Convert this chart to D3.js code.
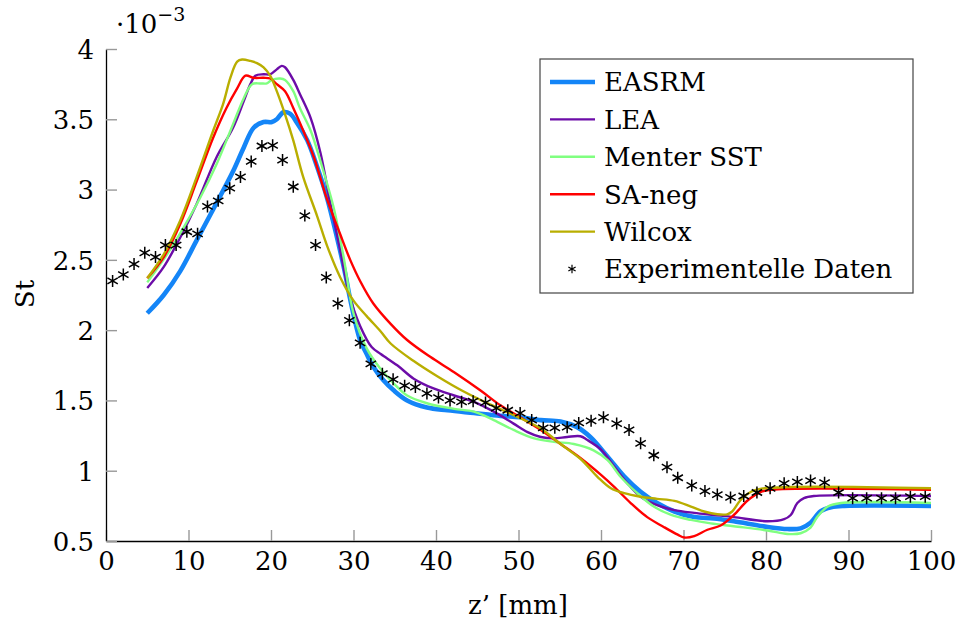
<!DOCTYPE html>
<html>
<head>
<meta charset="utf-8">
<script src="https://cdn.jsdelivr.net/npm/d3@7"></script>
<style>
  body { margin: 0; background: #fff; }
  text { font-family: "DejaVu Serif", "Liberation Serif", serif; fill: #000; }
</style>
</head>
<body>
<svg id="chart" width="956" height="630"></svg>
<script>
// Stanton number St (x 10^-3) along z' [mm]

const easrmZ  = [5.0, 7.0, 9.0, 11.0, 13.0, 15.4, 16.7, 17.9, 19.1, 20.1, 20.7, 21.5, 22.3, 23.1, 24.4, 25.6, 26.8, 28.0, 29.0, 29.6, 30.8, 31.6, 32.4, 33.6, 34.9, 36.5, 38.9, 41.4, 44.6, 47.8, 50.2, 52.7, 55.1, 57.1, 58.7, 60.8, 62.8, 64.8, 66.8, 68.9, 71.3, 73.7, 76.1, 80.2, 82.6, 84.2, 85.4, 86.6, 87.9, 89.5, 100];
const easrmSt = [2.12, 2.25, 2.42, 2.64, 2.86, 3.13, 3.30, 3.44, 3.48, 3.48, 3.50, 3.55, 3.54, 3.48, 3.35, 3.16, 2.94, 2.66, 2.40, 2.22, 1.93, 1.83, 1.74, 1.645, 1.57, 1.50, 1.45, 1.43, 1.41, 1.39, 1.38, 1.36, 1.35, 1.31, 1.24, 1.10, 0.96, 0.85, 0.77, 0.71, 0.67, 0.66, 0.64, 0.60, 0.585, 0.59, 0.63, 0.71, 0.74, 0.75, 0.75];

const leaZ  = [5.0, 7.0, 9.0, 11.0, 13.4, 15.4, 16.7, 17.5, 18.1, 19.1, 19.9, 20.7, 21.3, 21.7, 22.7, 23.5, 24.8, 26.0, 27.2, 28.4, 29.6, 30.8, 32.2, 33.3, 35.3, 37.3, 39.7, 42.2, 44.6, 47.0, 49.4, 51.1, 52.7, 54.3, 55.9, 57.5, 58.3, 60.0, 61.6, 63.2, 64.8, 66.8, 68.9, 71.3, 73.7, 76.1, 80.2, 82.2, 83.0, 83.8, 84.6, 85.8, 100];
const leaSt = [2.30, 2.45, 2.66, 2.90, 3.23, 3.44, 3.63, 3.75, 3.81, 3.82, 3.82, 3.855, 3.88, 3.87, 3.78, 3.68, 3.51, 3.26, 2.90, 2.565, 2.23, 2.03, 1.88, 1.83, 1.75, 1.655, 1.585, 1.535, 1.49, 1.42, 1.335, 1.275, 1.24, 1.23, 1.24, 1.245, 1.22, 1.15, 1.03, 0.91, 0.815, 0.755, 0.72, 0.70, 0.685, 0.67, 0.64, 0.655, 0.685, 0.77, 0.805, 0.82, 0.82];

const menterZ  = [5.0, 7.4, 9.4, 11.4, 13.4, 15.4, 16.7, 17.7, 18.7, 19.5, 20.1, 21.1, 21.7, 22.7, 23.5, 24.8, 26.0, 27.6, 28.8, 30.0, 31.6, 33.2, 34.9, 36.5, 38.9, 42.2, 44.6, 47.0, 49.4, 51.9, 54.3, 56.7, 59.1, 60.8, 62.4, 64.4, 66.4, 68.5, 70.9, 73.3, 76.1, 80.2, 82.6, 84.2, 85.4, 86.2, 87.5, 89.1, 100];
const menterSt = [2.34, 2.54, 2.73, 2.94, 3.18, 3.465, 3.65, 3.75, 3.755, 3.755, 3.78, 3.79, 3.78, 3.70, 3.58, 3.42, 3.20, 2.87, 2.52, 2.12, 1.87, 1.73, 1.62, 1.535, 1.48, 1.44, 1.42, 1.36, 1.29, 1.23, 1.205, 1.19, 1.145, 1.075, 0.955, 0.84, 0.745, 0.685, 0.65, 0.625, 0.605, 0.575, 0.55, 0.555, 0.595, 0.67, 0.745, 0.77, 0.77];

const saNegZ  = [5.0, 7.0, 9.0, 11.0, 13.0, 14.6, 15.9, 16.9, 17.9, 19.1, 19.9, 20.7, 21.7, 22.7, 23.9, 25.2, 26.8, 28.4, 29.6, 30.8, 32.4, 34.5, 36.5, 39.3, 42.2, 45.4, 47.8, 50.2, 52.7, 55.1, 57.5, 60.0, 61.6, 63.6, 65.6, 67.6, 69.3, 70.1, 71.3, 72.9, 74.5, 76.1, 77.8, 79.4, 80.6, 100];
const saNegSt = [2.37, 2.52, 2.755, 3.06, 3.37, 3.58, 3.72, 3.81, 3.795, 3.795, 3.79, 3.75, 3.70, 3.58, 3.42, 3.23, 2.93, 2.68, 2.50, 2.35, 2.19, 2.045, 1.93, 1.81, 1.70, 1.57, 1.465, 1.38, 1.29, 1.19, 1.09, 0.97, 0.885, 0.77, 0.67, 0.60, 0.545, 0.525, 0.535, 0.58, 0.61, 0.685, 0.79, 0.85, 0.865, 0.865];

const wilcoxZ  = [5.0, 7.0, 9.0, 11.0, 13.0, 14.2, 15.1, 15.9, 16.5, 17.5, 18.3, 19.1, 19.9, 20.7, 21.7, 22.7, 23.9, 25.6, 26.8, 28.4, 30.0, 31.6, 33.3, 34.5, 37.3, 40.2, 43.3, 46.6, 49.8, 52.7, 55.1, 57.5, 59.6, 61.2, 62.8, 64.8, 66.8, 68.9, 70.9, 72.5, 74.1, 75.3, 75.9, 76.9, 78.2, 79.8, 100];
const wilcoxSt = [2.37, 2.54, 2.78, 3.09, 3.42, 3.61, 3.80, 3.91, 3.925, 3.915, 3.90, 3.87, 3.81, 3.70, 3.535, 3.35, 3.09, 2.81, 2.60, 2.375, 2.21, 2.10, 1.99, 1.905, 1.78, 1.67, 1.565, 1.47, 1.385, 1.30, 1.19, 1.085, 0.955, 0.875, 0.84, 0.815, 0.80, 0.785, 0.745, 0.71, 0.69, 0.69, 0.71, 0.79, 0.85, 0.875, 0.875];

const expZ  = [0.8, 2.1, 3.4, 4.7, 6.0, 7.2, 8.5, 9.8, 11.1, 12.3, 13.6, 15.0, 16.3, 17.6, 18.9, 20.2, 21.4, 22.7, 24.1, 25.4, 26.7, 28.1, 29.5, 30.8, 32.1, 33.5, 34.8, 36.2, 37.5, 38.9, 40.3, 41.7, 43.1, 44.5, 46.0, 47.3, 48.7, 50.2, 51.6, 53.0, 54.4, 55.9, 57.3, 58.8, 60.3, 61.9, 63.4, 64.8, 66.4, 68.0, 69.3, 71.0, 72.6, 74.1, 75.7, 77.3, 78.9, 80.5, 82.2, 83.8, 85.4, 87.1, 88.8, 90.5, 92.2, 94.0, 95.7, 97.5, 99.3];
const expSt = [2.35, 2.395, 2.47, 2.55, 2.52, 2.605, 2.605, 2.70, 2.685, 2.88, 2.92, 3.01, 3.09, 3.20, 3.31, 3.315, 3.21, 3.02, 2.815, 2.605, 2.375, 2.19, 2.07, 1.91, 1.76, 1.69, 1.65, 1.605, 1.595, 1.55, 1.52, 1.50, 1.49, 1.495, 1.485, 1.445, 1.43, 1.41, 1.36, 1.305, 1.305, 1.31, 1.34, 1.355, 1.38, 1.335, 1.29, 1.195, 1.11, 1.025, 0.95, 0.895, 0.855, 0.83, 0.81, 0.82, 0.845, 0.875, 0.91, 0.92, 0.93, 0.915, 0.845, 0.805, 0.805, 0.805, 0.805, 0.815, 0.815];

const xTicks = [0, 10, 20, 30, 40, 50, 60, 70, 80, 90, 100];
const yTicks = [0.5, 1, 1.5, 2, 2.5, 3, 3.5, 4];

const series = [
  { name: "EASRM",      z: easrmZ,  st: easrmSt,  color: "#1485f7", width: 4.6 },
  { name: "LEA",        z: leaZ,    st: leaSt,    color: "#6c0ca8", width: 2.4 },
  { name: "Menter SST", z: menterZ, st: menterSt, color: "#80ff80", width: 2.4 },
  { name: "SA-neg",     z: saNegZ,  st: saNegSt,  color: "#ff0000", width: 2.4 },
  { name: "Wilcox",     z: wilcoxZ, st: wilcoxSt, color: "#b9ae00", width: 2.4 }
];

const FONT = '"DejaVu Serif", "Liberation Serif", serif';
const FS = 26;

const svg = d3.select("#chart");
svg.append("rect").attr("width", 956).attr("height", 630).attr("fill", "#fff");

const x = d3.scaleLinear().domain([0, 100]).range([106, 931]);
const y = d3.scaleLinear().domain([0.5, 4]).range([541, 49]);

// axes: only left and bottom, ticks pointing inward in grey
const xAxis = d3.axisBottom(x).tickValues(xTicks).tickFormat(d3.format("~g"))
  .tickSizeInner(-11).tickSizeOuter(0).tickPadding(11);
const yAxis = d3.axisLeft(y).tickValues(yTicks).tickFormat(d3.format("~g"))
  .tickSizeInner(-11).tickSizeOuter(0).tickPadding(12);

const gx = svg.append("g").attr("transform", "translate(0,541)").call(xAxis);
const gy = svg.append("g").attr("transform", "translate(106,0)").call(yAxis);
[gx, gy].forEach(g => {
  g.attr("font-family", FONT).attr("font-size", FS);
  g.select(".domain").attr("stroke", "#000").attr("stroke-width", 1.3);
  g.selectAll(".tick line").attr("stroke", "#999").attr("stroke-width", 1.4);
  g.selectAll(".tick text").attr("fill", "#000");
});
gy.selectAll(".tick text").attr("dy", "0.36em");

// model curves
const line = d3.line().curve(d3.curveCatmullRom.alpha(0.5))
  .x(d => x(d[0])).y(d => y(d[1]));
series.forEach(s => {
  const pts = s.z.map((z, i) => [z, s.st[i]]);
  svg.append("path").datum(pts)
    .attr("d", line)
    .attr("fill", "none")
    .attr("stroke", s.color)
    .attr("stroke-width", s.width)
    .attr("stroke-linejoin", "round");
});

// asterisk marker
function asterisk(r) {
  const c = r * Math.cos(Math.PI / 6), s = r * Math.sin(Math.PI / 6);
  return `M0,${-r}L0,${r}M${-c},${-s}L${c},${s}M${-c},${s}L${c},${-s}`;
}
const starPath = asterisk(6);
svg.append("g").selectAll("path")
  .data(expZ.map((z, i) => [z, expSt[i]]))
  .join("path")
  .attr("transform", d => `translate(${x(d[0])},${y(d[1])})`)
  .attr("d", starPath)
  .attr("fill", "none")
  .attr("stroke", "#000")
  .attr("stroke-width", 1.5);

// multiplier label
const mult = svg.append("text").attr("x", 116).attr("y", 33).attr("font-size", FS)
  .attr("font-family", FONT);
mult.append("tspan").text("·10");
mult.append("tspan").attr("font-size", 19).attr("dy", -12).text("−3");

// axis titles
svg.append("text").attr("x", 518).attr("y", 614).attr("text-anchor", "middle")
  .attr("font-family", FONT).attr("font-size", FS).text("z’ [mm]");
svg.append("text").attr("transform", "translate(34,294) rotate(-90)")
  .attr("text-anchor", "middle").attr("font-family", FONT).attr("font-size", FS).text("St");

// legend
const lg = svg.append("g").attr("font-family", FONT).attr("font-size", FS);
lg.append("rect").attr("x", 540).attr("y", 59).attr("width", 373).attr("height", 234)
  .attr("fill", "#fff").attr("stroke", "#444").attr("stroke-width", 1.2);
const rowY = i => 82 + i * 37.4;
series.forEach((s, i) => {
  lg.append("line").attr("x1", 550).attr("x2", 595).attr("y1", rowY(i)).attr("y2", rowY(i))
    .attr("stroke", s.color).attr("stroke-width", s.width);
  lg.append("text").attr("x", 604).attr("y", rowY(i)).attr("dy", "0.36em").text(s.name);
});
lg.append("path").attr("transform", `translate(572,${rowY(5)})`).attr("d", asterisk(4.2))
  .attr("fill", "none").attr("stroke", "#000").attr("stroke-width", 1.2);
lg.append("text").attr("x", 604).attr("y", rowY(5)).attr("dy", "0.36em").text("Experimentelle Daten");
</script>
</body>
</html>
